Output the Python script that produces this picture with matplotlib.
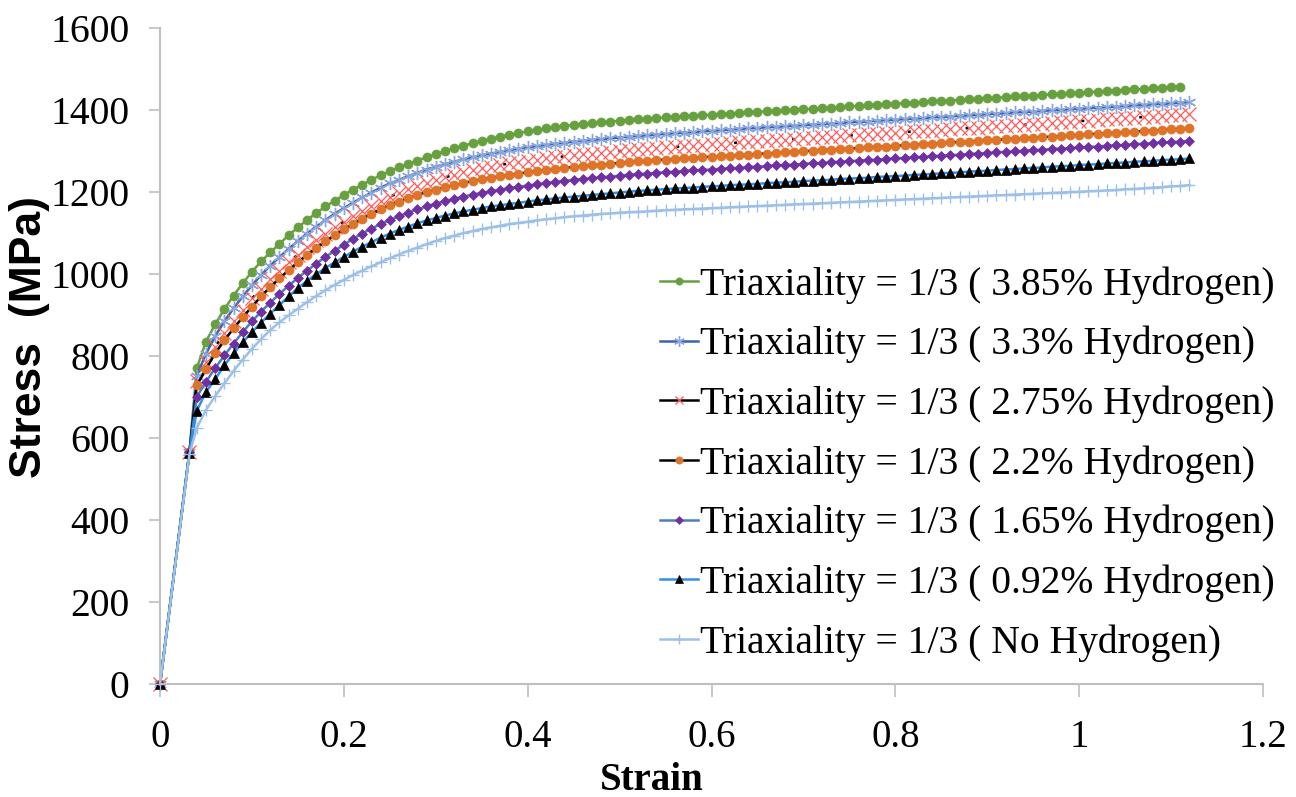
import matplotlib
matplotlib.use("Agg")
import matplotlib.pyplot as plt
from matplotlib.lines import Line2D

plt.rcParams['font.family'] = ['Liberation Serif', 'DejaVu Serif']

# strain axis (common sampling of the curves)
strain = [0, 0.032,
          0.04, 0.05, 0.06, 0.07, 0.08, 0.09, 0.10, 0.11, 0.12, 0.13, 0.14, 0.15, 0.16, 0.17, 0.18, 0.19,
          0.20, 0.21, 0.22, 0.23, 0.24, 0.25, 0.26, 0.27, 0.28, 0.29, 0.30, 0.31, 0.32, 0.33, 0.34, 0.35,
          0.36, 0.37, 0.38, 0.39, 0.40, 0.41, 0.42, 0.43, 0.44, 0.45, 0.46, 0.47, 0.48, 0.49, 0.50, 0.51,
          0.52, 0.53, 0.54, 0.55, 0.56, 0.57, 0.58, 0.59, 0.60, 0.61, 0.62, 0.63, 0.64, 0.65, 0.66, 0.67,
          0.68, 0.69, 0.70, 0.71, 0.72, 0.73, 0.74, 0.75, 0.76, 0.77, 0.78, 0.79, 0.80, 0.81, 0.82, 0.83,
          0.84, 0.85, 0.86, 0.87, 0.88, 0.89, 0.90, 0.91, 0.92, 0.93, 0.94, 0.95, 0.96, 0.97, 0.98, 0.99,
          1.00, 1.01, 1.02, 1.03, 1.04, 1.05, 1.06, 1.07, 1.08, 1.09, 1.10, 1.11, 1.12]

h385 = [0, 565,
        770, 835, 877, 914, 947, 977, 1005, 1030, 1052, 1073, 1094, 1113, 1131, 1148, 1164, 1178,
        1192, 1205, 1217, 1229, 1240, 1250, 1259, 1268, 1276, 1284, 1292, 1299, 1306, 1312, 1318, 1324,
        1329, 1334, 1339, 1343, 1347, 1351, 1354, 1357, 1360, 1363, 1365, 1367, 1369, 1371, 1373, 1375,
        1376, 1378, 1379, 1381, 1382, 1384, 1385, 1386, 1388, 1389, 1390, 1392, 1393, 1394, 1396, 1397,
        1398, 1400, 1401, 1402, 1404, 1405, 1406, 1408, 1409, 1410, 1412, 1413, 1414, 1416, 1417, 1418,
        1420, 1421, 1422, 1424, 1425, 1426, 1428, 1429, 1430, 1432, 1433, 1434, 1436, 1437, 1438, 1440,
        1441, 1442, 1444, 1445, 1446, 1448, 1449, 1450, 1452, 1453, 1454, 1456]

h33 = [0, 565,
       752, 805, 848, 884, 916, 945, 972, 997, 1020, 1041, 1061, 1080, 1098, 1115, 1131, 1146,
       1160, 1173, 1186, 1198, 1210, 1220, 1229, 1238, 1246, 1254, 1261, 1267, 1273, 1279, 1284, 1289,
       1293, 1297, 1301, 1305, 1308, 1311, 1314, 1317, 1319, 1322, 1324, 1326, 1328, 1330, 1332, 1334,
       1336, 1337, 1339, 1341, 1342, 1344, 1345, 1347, 1348, 1350, 1351, 1353, 1354, 1355, 1357, 1358,
       1359, 1361, 1362, 1363, 1365, 1366, 1367, 1369, 1370, 1371, 1373, 1374, 1375, 1377, 1378, 1379,
       1381, 1382, 1383, 1385, 1386, 1387, 1389, 1390, 1391, 1393, 1394, 1395, 1397, 1398, 1399, 1401,
       1402, 1403, 1405, 1406, 1407, 1409, 1410, 1411, 1413, 1414, 1415, 1417, 1418]

h275 = [0, 565,
        740, 785, 822, 855, 885, 913, 940, 964, 987, 1008, 1028, 1047, 1065, 1082, 1098, 1113,
        1127, 1141, 1154, 1166, 1177, 1188, 1197, 1206, 1214, 1222, 1229, 1235, 1241, 1247, 1252, 1257,
        1261, 1265, 1269, 1272, 1275, 1278, 1281, 1284, 1286, 1289, 1291, 1293, 1295, 1297, 1299, 1301,
        1303, 1304, 1306, 1308, 1309, 1311, 1312, 1314, 1315, 1317, 1318, 1320, 1321, 1323, 1324, 1326,
        1327, 1328, 1330, 1331, 1333, 1334, 1335, 1337, 1338, 1340, 1341, 1342, 1344, 1345, 1347, 1348,
        1349, 1351, 1352, 1354, 1355, 1356, 1358, 1359, 1361, 1362, 1363, 1365, 1366, 1368, 1369, 1370,
        1372, 1373, 1375, 1376, 1377, 1379, 1380, 1382, 1383, 1384, 1386, 1387, 1389]

h22 = [0, 565,
       728, 768, 806, 838, 867, 894, 920, 945, 968, 989, 1009, 1028, 1046, 1063, 1079, 1094,
       1108, 1121, 1134, 1146, 1157, 1167, 1176, 1184, 1192, 1199, 1205, 1211, 1216, 1221, 1226, 1230,
       1234, 1238, 1241, 1244, 1247, 1250, 1253, 1255, 1258, 1260, 1262, 1264, 1266, 1268, 1270, 1272,
       1274, 1275, 1277, 1278, 1280, 1281, 1282, 1284, 1285, 1286, 1288, 1289, 1290, 1292, 1293, 1294,
       1296, 1297, 1298, 1300, 1301, 1302, 1304, 1305, 1306, 1308, 1309, 1310, 1312, 1313, 1314, 1316,
       1317, 1318, 1320, 1321, 1322, 1324, 1325, 1326, 1328, 1329, 1330, 1332, 1333, 1334, 1336, 1337,
       1338, 1340, 1341, 1342, 1344, 1345, 1346, 1348, 1349, 1350, 1352, 1353, 1354]

h165 = [0, 565,
        700, 737, 770, 801, 830, 858, 884, 908, 930, 951, 971, 990, 1008, 1025, 1041, 1056,
        1071, 1085, 1098, 1110, 1121, 1131, 1140, 1149, 1157, 1164, 1171, 1177, 1183, 1188, 1193, 1197,
        1201, 1205, 1209, 1212, 1215, 1218, 1221, 1224, 1226, 1229, 1231, 1233, 1235, 1237, 1239, 1241,
        1243, 1244, 1246, 1247, 1249, 1250, 1252, 1253, 1254, 1256, 1257, 1258, 1260, 1261, 1262, 1264,
        1265, 1266, 1268, 1269, 1270, 1272, 1273, 1274, 1276, 1277, 1278, 1280, 1281, 1282, 1284, 1285,
        1286, 1288, 1289, 1290, 1292, 1293, 1294, 1296, 1297, 1298, 1300, 1301, 1302, 1304, 1305, 1306,
        1308, 1309, 1310, 1312, 1313, 1314, 1316, 1317, 1318, 1320, 1321, 1322, 1324]

h092 = [0, 563,
        666, 712, 743, 777, 806, 833, 858, 881, 903, 924, 945, 965, 983, 999, 1014, 1028,
        1041, 1054, 1066, 1077, 1088, 1098, 1107, 1115, 1123, 1130, 1136, 1142, 1147, 1152, 1156, 1160,
        1164, 1167, 1170, 1173, 1176, 1179, 1181, 1184, 1186, 1188, 1190, 1192, 1194, 1196, 1198, 1200,
        1202, 1203, 1205, 1206, 1208, 1209, 1210, 1212, 1213, 1214, 1216, 1217, 1218, 1219, 1221, 1222,
        1223, 1224, 1226, 1227, 1228, 1229, 1231, 1232, 1233, 1234, 1236, 1237, 1238, 1239, 1241, 1242,
        1243, 1245, 1246, 1247, 1249, 1250, 1251, 1253, 1254, 1255, 1257, 1258, 1259, 1261, 1262, 1263,
        1265, 1266, 1267, 1269, 1270, 1271, 1273, 1274, 1275, 1277, 1278, 1279, 1281]

h0 = [0, 560,
      625, 668, 702, 733, 763, 791, 817, 841, 863, 882, 899, 915, 931, 946, 960, 973,
      985, 997, 1008, 1018, 1028, 1038, 1047, 1056, 1064, 1072, 1080, 1087, 1093, 1099, 1104, 1109,
      1113, 1117, 1121, 1124, 1127, 1130, 1133, 1135, 1138, 1140, 1142, 1144, 1146, 1147, 1149, 1150,
      1151, 1152, 1154, 1155, 1156, 1157, 1158, 1159, 1160, 1161, 1162, 1163, 1164, 1165, 1166, 1167,
      1168, 1169, 1170, 1171, 1172, 1173, 1174, 1175, 1176, 1177, 1178, 1179, 1180, 1181, 1182, 1183,
      1184, 1185, 1186, 1187, 1188, 1189, 1190, 1191, 1192, 1193, 1194, 1195, 1196, 1197, 1198, 1199,
      1200, 1201, 1202, 1203, 1204, 1206, 1207, 1208, 1210, 1211, 1213, 1214, 1216]

labels = ["Triaxiality = 1/3 ( 3.85% Hydrogen)",
          "Triaxiality = 1/3 ( 3.3% Hydrogen)",
          "Triaxiality = 1/3 ( 2.75% Hydrogen)",
          "Triaxiality = 1/3 ( 2.2% Hydrogen)",
          "Triaxiality = 1/3 ( 1.65% Hydrogen)",
          "Triaxiality = 1/3 ( 0.92% Hydrogen)",
          "Triaxiality = 1/3 ( No Hydrogen)"]
series = [h385, h33, h275, h22, h165, h092, h0]

x_ticks = [0, 0.2, 0.4, 0.6, 0.8, 1.0, 1.2]
x_tick_labels = ["0", "0.2", "0.4", "0.6", "0.8", "1", "1.2"]
y_ticks = [0, 200, 400, 600, 800, 1000, 1200, 1400, 1600]

# line colour, linestyle, marker, marker colour, marker size, marker edge width
styles = [
    dict(color='#67a03f', ls='-', marker='o', mfc='#67a03f', mec='#67a03f', ms=6.5, mew=0.5),
    dict(color='#3d63b3', ls='-', marker=(6, 2, 0), mfc='#8aa6dc', mec='#8aa6dc', ms=9.5, mew=1.0),
    dict(color='black', ls=(0, (1.2, 22)), marker='x', mfc='#ff5a5a', mec='#ff5a5a', ms=9.5, mew=0.9),
    dict(color='black', ls='-', marker='o', mfc='#df7428', mec='#df7428', ms=6.5, mew=0.5),
    dict(color='#4a7ec2', ls='-', marker='D', mfc='#7030a0', mec='#7030a0', ms=4.6, mew=0.5),
    dict(color='#2f90ea', ls='-', marker='^', mfc='black', mec='black', ms=7, mew=0.5),
    dict(color='#9dc0e8', ls='-', marker='+', mfc='#9dc0e8', mec='#9dc0e8', ms=9, mew=1.0),
]

fig = plt.figure(figsize=(12.96, 7.97), dpi=100)
ax = fig.add_axes([160 / 1296, 1 - 684.3 / 797, 1103 / 1296, 656.8 / 797])

handles = []
for vals, st, lab in zip(series, styles, labels):
    line, = ax.plot(strain[:len(vals)], vals, color=st['color'], linestyle=st['ls'], lw=1.8,
                    marker=st['marker'], markerfacecolor=st['mfc'], markeredgecolor=st['mec'],
                    markersize=st['ms'], markeredgewidth=st['mew'], clip_on=False, label=lab)
    handles.append(line)

# legend entry of the 2.75% curve shows a solid black line
handles[2] = Line2D([], [], color='black', lw=1.8, marker='x', markeredgecolor='#ff5a5a',
                    markersize=7, markeredgewidth=0.9)

ax.set_xlim(0, 1.2)
ax.set_ylim(0, 1600)
ax.set_xticks(x_ticks)
ax.set_xticklabels(x_tick_labels)
ax.set_yticks(y_ticks)

for s in ['top', 'right']:
    ax.spines[s].set_visible(False)
for s in ['left', 'bottom']:
    ax.spines[s].set_color('#bfbfbf')
    ax.spines[s].set_linewidth(1.5)
ax.tick_params(axis='y', direction='out', length=8, width=1.2, color='#bfbfbf', pad=14, labelsize=28.5)
ax.tick_params(axis='x', direction='out', length=9, width=1.2, color='#bfbfbf', pad=16, labelsize=28)

leg = ax.legend(handles=handles, labels=labels, loc='center left',
                bbox_to_anchor=(660 / 1296, 1 - 464 / 797), bbox_transform=fig.transFigure,
                frameon=False, fontsize=28.5, borderpad=0, borderaxespad=0,
                handlelength=0.95, handletextpad=0.05, labelspacing=0.56, markerscale=0.8)

fig.text(30 / 1296, 1 - 337 / 797, "Stress  (MPa)", rotation=90, ha='center', va='center',
         fontsize=32, fontweight='bold', family='Liberation Sans')
fig.text(652 / 1296, 1 - 781 / 797, "Strain", ha='center', va='center',
         fontsize=28, fontweight='bold')

fig.savefig("out.png", dpi=100)
